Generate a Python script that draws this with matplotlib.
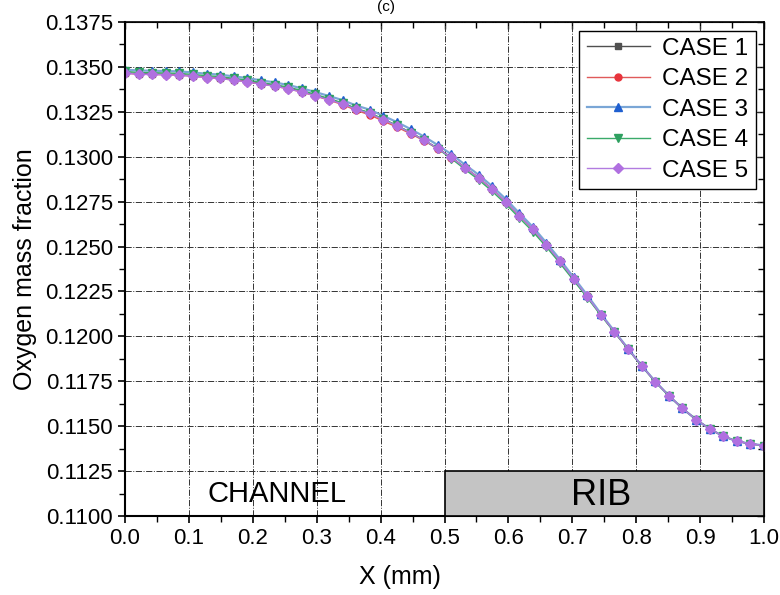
import numpy as np
import matplotlib
matplotlib.use("Agg")
import matplotlib.pyplot as plt
from matplotlib.patches import Rectangle
from matplotlib.ticker import MultipleLocator

plt.rcParams['font.family'] = ['Liberation Sans', 'DejaVu Sans']

# x positions of the mesh nodes (mm)
x = np.linspace(0.0, 1.0, 48)

# oxygen mass fraction for each case
case1 = [0.13468, 0.13462, 0.13461, 0.13459, 0.13457, 0.13451, 0.13444, 0.13439, 0.13429, 0.13420,
         0.13407, 0.13396, 0.13381, 0.13363, 0.13342, 0.13320, 0.13297, 0.13267, 0.13243, 0.13208,
         0.13174, 0.13135, 0.13093, 0.13047, 0.12997, 0.12940, 0.12883, 0.12820, 0.12750, 0.12672,
         0.12596, 0.12509, 0.12417, 0.12320, 0.12222, 0.12121, 0.12025, 0.11930, 0.11836, 0.11748,
         0.11670, 0.11599, 0.11537, 0.11485, 0.11444, 0.11416, 0.11402, 0.11392]
case2 = [0.13465, 0.13459, 0.13458, 0.13456, 0.13454, 0.13448, 0.13441, 0.13436, 0.13426, 0.13417,
         0.13404, 0.13393, 0.13378, 0.13360, 0.13338, 0.13315, 0.13290, 0.13258, 0.13233, 0.13198,
         0.13165, 0.13128, 0.13089, 0.13044, 0.12995, 0.12939, 0.12883, 0.12820, 0.12750, 0.12672,
         0.12596, 0.12509, 0.12417, 0.12320, 0.12222, 0.12121, 0.12025, 0.11930, 0.11836, 0.11748,
         0.11670, 0.11599, 0.11537, 0.11485, 0.11444, 0.11416, 0.11402, 0.11392]
case3 = [0.13485, 0.13480, 0.13479, 0.13477, 0.13475, 0.13469, 0.13462, 0.13457, 0.13447, 0.13438,
         0.13425, 0.13414, 0.13399, 0.13381, 0.13360, 0.13338, 0.13315, 0.13285, 0.13262, 0.13227,
         0.13193, 0.13154, 0.13112, 0.13065, 0.13014, 0.12956, 0.12900, 0.12836, 0.12765, 0.12686,
         0.12609, 0.12520, 0.12427, 0.12328, 0.12229, 0.12126, 0.12028, 0.11932, 0.11837, 0.11749,
         0.11670, 0.11599, 0.11537, 0.11485, 0.11444, 0.11416, 0.11402, 0.11393]
case4 = [0.13475, 0.13469, 0.13468, 0.13466, 0.13464, 0.13458, 0.13451, 0.13446, 0.13436, 0.13427,
         0.13413, 0.13402, 0.13387, 0.13369, 0.13347, 0.13324, 0.13300, 0.13269, 0.13245, 0.13209,
         0.13174, 0.13134, 0.13092, 0.13044, 0.12990, 0.12930, 0.12872, 0.12808, 0.12737, 0.12659,
         0.12583, 0.12497, 0.12406, 0.12311, 0.12215, 0.12117, 0.12022, 0.11928, 0.11835, 0.11747,
         0.11669, 0.11599, 0.11537, 0.11485, 0.11444, 0.11416, 0.11402, 0.11392]
case5 = [0.13465, 0.13459, 0.13458, 0.13456, 0.13454, 0.13448, 0.13441, 0.13436, 0.13426, 0.13417,
         0.13404, 0.13393, 0.13378, 0.13360, 0.13339, 0.13317, 0.13294, 0.13264, 0.13241, 0.13206,
         0.13172, 0.13133, 0.13092, 0.13046, 0.12996, 0.12939, 0.12883, 0.12820, 0.12750, 0.12672,
         0.12596, 0.12509, 0.12417, 0.12320, 0.12222, 0.12121, 0.12025, 0.11930, 0.11836, 0.11748,
         0.11670, 0.11599, 0.11537, 0.11485, 0.11444, 0.11416, 0.11402, 0.11392]

labels = ["CASE 1", "CASE 2", "CASE 3", "CASE 4", "CASE 5"]

fig = plt.figure(figsize=(7.8, 5.95), dpi=100)
ax = fig.add_axes([0.1603, 0.1328, 0.8192, 0.8302])

# series: data, line colour, marker colour, marker, line width
ax.plot(x, case1, color='#505050', marker='s', markersize=5, mfc='#505050', mec='#505050', lw=1.0, label=labels[0])
ax.plot(x, case2, color='#e05a5a', marker='o', markersize=5, mfc='#e8343c', mec='#e8343c', lw=1.0, label=labels[1])
ax.plot(x, case3, color='#7aa6d6', marker='^', markersize=6, mfc='#1f5fd0', mec='#1f5fd0', lw=1.6, label=labels[2])
ax.plot(x, case4, color='#3aaa6a', marker='v', markersize=6, mfc='#2ea060', mec='#2ea060', lw=1.0, label=labels[3])
ax.plot(x, case5, color='#b27be0', marker='D', markersize=5, mfc='#b070e0', mec='#b070e0', lw=1.0, label=labels[4])

ax.set_xlim(0.0, 1.0)
ax.set_ylim(0.1100, 0.1375)
ax.xaxis.set_major_locator(MultipleLocator(0.1))
ax.xaxis.set_minor_locator(MultipleLocator(0.05))
ax.yaxis.set_major_locator(MultipleLocator(0.0025))
ax.yaxis.set_minor_locator(MultipleLocator(0.00125))
ax.xaxis.set_major_formatter(matplotlib.ticker.FormatStrFormatter('%.1f'))
ax.yaxis.set_major_formatter(matplotlib.ticker.FormatStrFormatter('%.4f'))

ax.grid(True, which='major', color='#333333', linestyle='-.', linewidth=0.7)
ax.set_axisbelow(True)

ax.tick_params(axis='both', which='both', direction='out', labelsize=16,
               top=False, right=False)
ax.tick_params(which='major', length=5, width=1.2)
ax.tick_params(which='minor', length=4, width=1.0)
for s in ['left', 'bottom']:
    ax.spines[s].set_linewidth(1.5)
for s in ['top', 'right']:
    ax.spines[s].set_linewidth(1.2)

# inward ticks on top and right, like Origin
axt = ax.secondary_xaxis('top')
axt.xaxis.set_major_locator(MultipleLocator(0.1))
axt.xaxis.set_minor_locator(MultipleLocator(0.05))
axt.tick_params(which='both', direction='in', labeltop=False)
axt.tick_params(which='major', length=5, width=1.0)
axt.tick_params(which='minor', length=4, width=1.0)
axr = ax.secondary_yaxis('right')
axr.yaxis.set_major_locator(MultipleLocator(0.0025))
axr.yaxis.set_minor_locator(MultipleLocator(0.00125))
axr.tick_params(which='both', direction='in', labelright=False)
axr.tick_params(which='major', length=5, width=1.0)
axr.tick_params(which='minor', length=4, width=1.0)

ax.set_xlabel('X (mm)', fontsize=18)
ax.xaxis.set_label_coords(0.43, -0.10)
ax.set_ylabel('Oxygen mass fraction', fontsize=18, labelpad=6)

# channel / rib region
ax.add_patch(Rectangle((0.5, 0.1100), 0.5, 0.0025, facecolor='#c4c4c4',
                       edgecolor='black', linewidth=1.2, zorder=3, clip_on=False))
ax.text(0.238, 0.11122, 'CHANNEL', fontsize=21, ha='center', va='center', zorder=4)
ax.text(0.745, 0.11112, 'RIB', fontsize=26, ha='center', va='center', zorder=4)

leg = ax.legend(loc='upper right', fontsize=17.5, frameon=True, fancybox=False,
                edgecolor='black', framealpha=1.0, borderpad=0.3, labelspacing=0.35,
                handlelength=2.6, handletextpad=0.5, borderaxespad=0.35)
leg.get_frame().set_linewidth(1.0)

fig.text(0.495, 1.0, '(c)', fontsize=11, ha='center', va='top')

fig.savefig('out.png', dpi=100)
